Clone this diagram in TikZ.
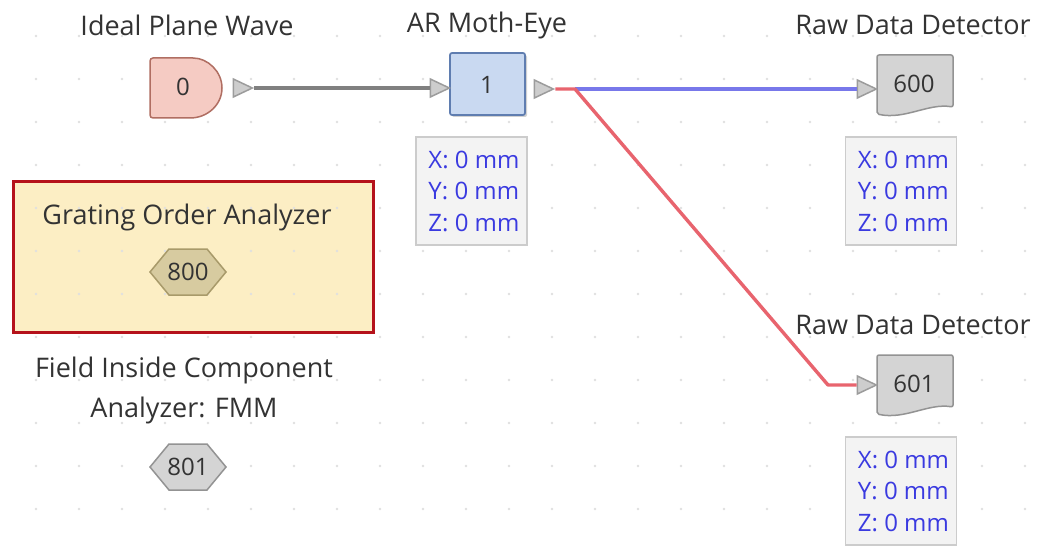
\documentclass[tikz,border=0pt]{standalone}
\usepackage{fontspec}
\setmainfont{Open Sans}
\usetikzlibrary{shapes.geometric}
\definecolor{txt}{HTML}{333333}
\definecolor{info}{HTML}{3A3AE0}
\definecolor{srcfill}{HTML}{F5CBC3}\definecolor{srcline}{HTML}{B06E62}
\definecolor{cmpfill}{HTML}{C9D9F1}\definecolor{cmpline}{HTML}{5F7DB0}
\definecolor{detfill}{HTML}{D4D4D4}\definecolor{detline}{HTML}{939393}
\definecolor{gofill}{HTML}{D7CBA0}\definecolor{goline}{HTML}{A89A6A}
\definecolor{hlfill}{HTML}{FCEEC4}\definecolor{hlline}{HTML}{B5121B}
\definecolor{boxfill}{HTML}{F3F3F3}\definecolor{boxline}{HTML}{CCCCCC}
\definecolor{wblue}{HTML}{7878EA}\definecolor{wred}{HTML}{E8646E}
\definecolor{wgray}{HTML}{808080}
\definecolor{portfill}{HTML}{CDCDCD}\definecolor{portline}{HTML}{9C9C9C}
\tikzset{
  x=1pt,y=-1pt,
  title/.style={font=\fontsize{27}{30}\selectfont, text=txt, inner sep=0pt},
  num/.style={font=\fontsize{24}{27}\selectfont, text=txt, inner sep=0pt},
  port/.style={isosceles triangle, isosceles triangle stretches, minimum width=18, minimum height=19,
    inner sep=0pt, fill=portfill, draw=portline, line width=1.5},
  infobox/.style={draw=boxline, fill=boxfill, line width=1.4, minimum width=111, minimum height=108,
    inner sep=0pt, align=left, text=info, font=\fontsize{24}{31.5}\selectfont},
  wire/.style={line width=3.4},
  shade/.style={fill=black!18, draw=none},
}
\begin{document}
\begin{tikzpicture}
\useasboundingbox (0,0) rectangle (1046,548);
\fill[white] (0,0) rectangle (1046,548);

% highlighted analyzer panel
\fill[hlfill] (13,182) rectangle (373,332);

% background dot grid
\foreach \gx in {36,79,...,1030} \foreach \gy in {36,79,...,540}
  \fill[black!12] (\gx,\gy) circle (1.4);

\draw[hlline, line width=3] (13,182) rectangle (373,332);

% titles
\node[title] (t0) at (187,25) {Ideal Plane Wave};
\node[title] (t1) at (487,25) {AR Moth-Eye};
\node[title] (t600) at (913,25) {Raw Data Detector};
\node[title] (t601) at (913,325) {Raw Data Detector};
\node[title] (t800) at (187,217) {Grating Order Analyzer};
\node[title, align=center, font=\fontsize{27}{40}\selectfont] (t801) at (184,390) {Field Inside Component\\Analyzer: FMM};

% source 0 (D shape)
\draw[fill=srcfill, draw=srcline, line width=1.5, rounded corners=3]
  (150,58) -- (190,58) [sharp corners] arc[start angle=-90, end angle=90, x radius=32, y radius=30] [rounded corners=3] -- (150,118) -- cycle;
\node[num] (n0) at (183,87) {0};

% component 1
\fill[shade, rounded corners=2] (452,55) rectangle (527,117);
\draw[fill=cmpfill, draw=cmpline, line width=1.7, rounded corners=2] (450,53) rectangle (525,115);
\node[num] (n1) at (487,85) {1};

% detectors 600 / 601
\foreach \dy in {0,300}{
  \draw[fill=detfill, draw=detline, line width=1.5, rounded corners=2]
    (877,55+\dy) -- (953,55+\dy) -- (953,107+\dy)
    .. controls (928,103+\dy) and (905,120+\dy) .. (877,114+\dy) -- cycle;
}
\node[num] (n600) at (914,84) {600};
\node[num] (n601) at (914,384) {601};

% analyzers 800 / 801
\draw[fill=gofill, draw=goline, line width=1.5]
  (150,272) -- (169,249) -- (207,249) -- (226,272) -- (207,295) -- (169,295) -- cycle;
\node[num] (n800) at (188,272) {800};
\draw[fill=detfill, draw=detline, line width=1.5]
  (150,467) -- (169,444) -- (207,444) -- (226,467) -- (207,490) -- (169,490) -- cycle;
\node[num] (n801) at (188,467) {801};

% position boxes
\node[infobox] (i1) at (471.5,191) {\hspace*{5pt}X: 0 mm\\\hspace*{5pt}Y: 0 mm\\\hspace*{5pt}Z: 0 mm};
\node[infobox] (i600) at (901,191) {\hspace*{5pt}X: 0 mm\\\hspace*{5pt}Y: 0 mm\\\hspace*{5pt}Z: 0 mm};
\node[infobox] (i601) at (901,491) {\hspace*{5pt}X: 0 mm\\\hspace*{5pt}Y: 0 mm\\\hspace*{5pt}Z: 0 mm};

% ports
\node[port] (p0o) at (239,88) {};
\node[port] (p1i) at (436,88) {};
\node[port] (p1o) at (540,89) {};
\node[port] (p600i) at (863,89) {};
\node[port] (p601i) at (863,385) {};

% wires
\coordinate (split) at (575,89);
\coordinate (bend) at (828,385);
\draw[wire, wgray] (p0o.east) -- (p1i.west);
\draw[wire, wblue] (split) -- (p600i.west);
\draw[wire, wred, line join=round] (p1o.east) -- (split) -- (bend) -- (p601i.west);
\end{tikzpicture}
\end{document}
